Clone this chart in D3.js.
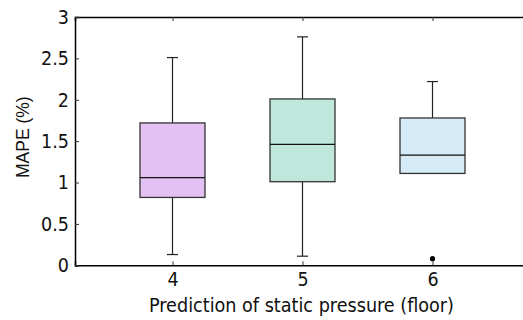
<!DOCTYPE html>
<html>
<head>
<meta charset="utf-8">
<script src="https://cdn.jsdelivr.net/npm/d3@7"></script>
<style>
  body { margin: 0; background: #fff; }
  text { font-family: "DejaVu Sans Condensed", "DejaVu Sans", sans-serif; fill: #111; }
</style>
</head>
<body>
<div id="chart"></div>
<script>
const width = 523;
const height = 320;

// box stats
const floors = [4, 5, 6];
const whiskLow = [0.13, 0.11, 1.11];
const q1 = [0.82, 1.01, 1.11];
const median = [1.06, 1.46, 1.33];
const q3 = [1.72, 2.01, 1.78];
const whiskHigh = [2.51, 2.76, 2.22];
const outliers = [[], [], [0.08]];
const fills = ['#e4c1f3', '#c0e7dc', '#d5ebf7'];
const yTicks = [0, 0.5, 1, 1.5, 2, 2.5, 3];

const margin = {top: 17, left: 75, bottom: 55};

const x = d3.scaleLinear().domain([3.25, 6.75]).range([margin.left, margin.left + 455]);
const y = d3.scaleLinear().domain([0, 3]).range([height - margin.bottom + 0.3, margin.top]);

const svg = d3.select('#chart').append('svg')
    .attr('width', width).attr('height', height);

const boxes = floors.map((f, i) => ({
    floor: f, lo: whiskLow[i], q1: q1[i], med: median[i], q3: q3[i],
    hi: whiskHigh[i], out: outliers[i], fill: fills[i]
}));

const boxW = x(4.5) - x(4);
const capW = 11;

const g = svg.selectAll('g.box')
    .data(boxes)
    .join('g')
    .attr('class', 'box');

// whiskers
g.append('line')
    .attr('x1', d => x(d.floor)).attr('x2', d => x(d.floor))
    .attr('y1', d => y(d.q3)).attr('y2', d => y(d.hi))
    .attr('stroke', '#222').attr('stroke-width', 1.2);
g.filter(d => d.lo < d.q1).append('line')
    .attr('x1', d => x(d.floor)).attr('x2', d => x(d.floor))
    .attr('y1', d => y(d.q1)).attr('y2', d => y(d.lo))
    .attr('stroke', '#222').attr('stroke-width', 1.2);
g.append('line')
    .attr('x1', d => x(d.floor) - capW / 2).attr('x2', d => x(d.floor) + capW / 2)
    .attr('y1', d => y(d.hi)).attr('y2', d => y(d.hi))
    .attr('stroke', '#222').attr('stroke-width', 1.2);
g.filter(d => d.lo < d.q1).append('line')
    .attr('x1', d => x(d.floor) - capW / 2).attr('x2', d => x(d.floor) + capW / 2)
    .attr('y1', d => y(d.lo)).attr('y2', d => y(d.lo))
    .attr('stroke', '#222').attr('stroke-width', 1.2);

// boxes
g.append('rect')
    .attr('x', d => x(d.floor) - boxW / 2)
    .attr('width', boxW)
    .attr('y', d => y(d.q3))
    .attr('height', d => y(d.q1) - y(d.q3))
    .attr('fill', d => d.fill)
    .attr('stroke', '#333').attr('stroke-width', 1.3);

g.append('line')
    .attr('x1', d => x(d.floor) - boxW / 2).attr('x2', d => x(d.floor) + boxW / 2)
    .attr('y1', d => y(d.med)).attr('y2', d => y(d.med))
    .attr('stroke', '#111').attr('stroke-width', 1.3);

g.selectAll('circle')
    .data(d => d.out.map(v => ({floor: d.floor, v})))
    .join('circle')
    .attr('cx', d => x(d.floor)).attr('cy', d => y(d.v))
    .attr('r', 2.6).attr('fill', '#000');

// axes
const axisBottom = svg.append('g')
    .attr('transform', `translate(0,${y(0)})`)
    .call(d3.axisBottom(x).tickValues(floors).tickSize(-4).tickPadding(7).tickFormat(d3.format('d')));
const axisTop = svg.append('g')
    .attr('transform', `translate(0,${y(3)})`)
    .call(d3.axisTop(x).tickValues(floors).tickSize(-4).tickFormat(''));
const axisLeft = svg.append('g')
    .attr('transform', `translate(${x(3.25)},0)`)
    .call(d3.axisLeft(y).tickValues(yTicks).tickSize(-4).tickPadding(6).tickFormat(d3.format('')));

[axisBottom, axisTop, axisLeft].forEach(a => {
    a.select('.domain').attr('stroke', '#000').attr('stroke-width', 1.5);
    a.selectAll('.tick line').attr('stroke', '#333');
    a.selectAll('.tick text').style('font-size', '19.5px').attr('fill', '#111');
});

svg.append('text')
    .attr('x', 301.5)
    .attr('y', 312)
    .attr('text-anchor', 'middle')
    .style('font-size', '19.6px')
    .text('Prediction of static pressure (floor)');

svg.append('text')
    .attr('transform', `translate(29,${(y(0) + y(3)) / 2 - 4}) rotate(-90)`)
    .attr('text-anchor', 'middle')
    .style('font-family', '"Liberation Sans", Arial, sans-serif')
    .style('font-size', '17.5px')
    .text('MAPE (%)');
</script>
</body>
</html>
